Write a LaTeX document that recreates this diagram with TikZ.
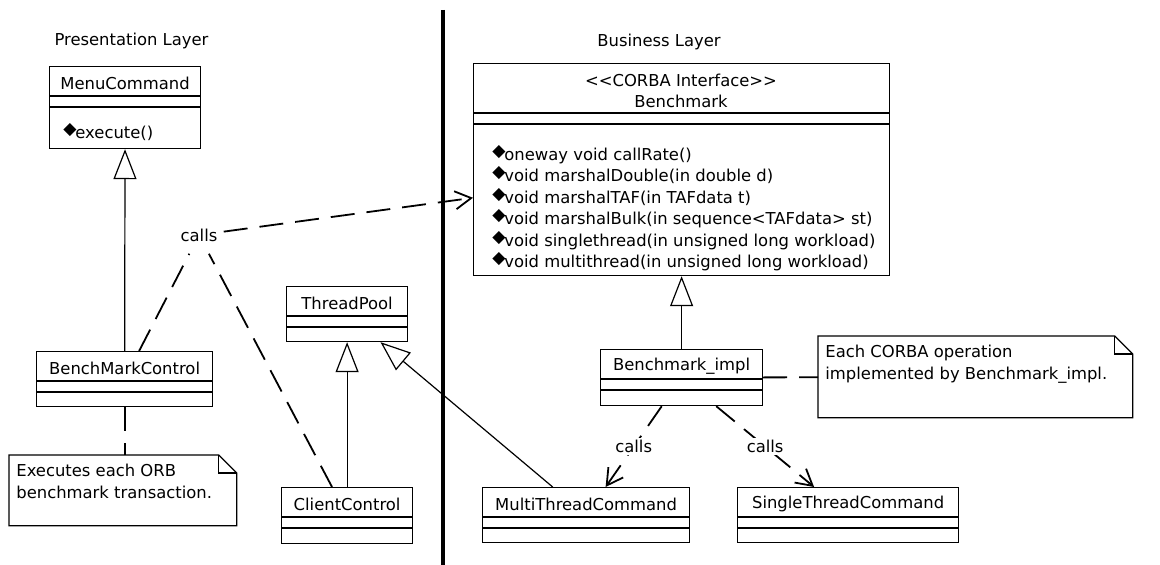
\documentclass[tikz,border=0pt]{standalone}
\usepackage{fontspec}
\setmainfont{DejaVu Sans}
\usetikzlibrary{arrows.meta,positioning,calc}

\newcommand{\op}{\raisebox{1.8pt}{\fontsize{8.6}{8.6}\selectfont ◆}\hspace{-0.6pt}}

\tikzset{
  cls/.style={draw, fill=white, inner sep=0pt, anchor=north west, line width=0.6pt},
  txt/.style={inner sep=0pt},
  gen/.style={-{Triangle[open, length=15pt, width=11.5pt]}, line width=0.6pt},
  dep/.style={line width=0.9pt, dash pattern=on 12pt off 6pt},
  opn/.style={-{Straight Barb[length=8pt, width=9pt]}},
  lbl/.style={fill=white, inner sep=1pt},
  notebox/.style={line width=0.6pt}
}

\newcommand{\umlclass}[6]{%
  \node[cls, minimum width=#4*0.5pt, minimum height=#5*0.5pt] (#1) at (#2,#3) {};
  \node (#1-t) at ($(#1.north)+(0,17)$) {#6};
  \draw[line width=0.6pt] ($(#1.north west)+(0,30)$) -- ($(#1.north east)+(0,30)$)
    ($(#1.north west)+(0,41)$) -- ($(#1.north east)+(0,41)$);
}

\newcommand{\umlnote}[5]{%
  \node[txt, minimum width=#4*0.5pt, minimum height=#5*0.5pt, anchor=north west] (#1) at (#2,#3) {};
  \draw[notebox] (#1.north west) -- ($(#1.north east)+(-18,0)$) -- ($(#1.north east)+(0,18)$)
    -- (#1.south east) -- (#1.south west) -- cycle;
  \draw[notebox] ($(#1.north east)+(-18,0)$) |- ($(#1.north east)+(0,18)$);
}

\begin{document}
\begin{tikzpicture}[x=0.5pt, y=-0.5pt, every node/.style={font=\fontsize{8.2}{10.75}\selectfont}]
        \useasboundingbox (0,0) rectangle (1160,565);

        \draw[line width=2pt] (443,10) -- (443,565);

        \node (pres) at (131.5,41) {Presentation Layer};
        \node (bus) at (659,42) {Business Layer};

        \umlclass{mc}{49}{66}{151}{82}{MenuCommand}
        \node[txt, anchor=west] (mc-op) at (63,132) {\op execute()};
        \umlclass{bmc}{36}{351}{176}{55}{BenchMarkControl}
        \umlclass{tp}{286}{286}{121}{55}{ThreadPool}
        \umlclass{cc}{281}{487}{131}{56}{ClientControl}
        \umlclass{mtc}{482}{487}{207}{55}{MultiThreadCommand}
        \umlclass{stc}{737}{487}{221}{55}{SingleThreadCommand}
        \umlclass{bi}{600}{349}{162}{56}{Benchmark\_impl}

        \node[cls, minimum width=208pt, minimum height=106pt] (bench) at (473,63) {};
        \node[align=center] (bench-t) at (681,91) {<{}<CORBA Interface>{}>\\Benchmark};
        \draw[line width=0.6pt] ($(bench.north west)+(0,50)$) -- ($(bench.north east)+(0,50)$)
          ($(bench.north west)+(0,61)$) -- ($(bench.north east)+(0,61)$);
        \node[txt, anchor=north west, align=left] (bench-ops) at (492,145) {\op oneway void callRate()\\
          \op void marshalDouble(in double d)\\
          \op void marshalTAF(in TAFdata t)\\
          \op void marshalBulk(in sequence<TAFdata> st)\\
          \op void singlethread(in unsigned long workload)\\
          \op void multithread(in unsigned long workload)};

        \umlnote{n1}{9}{455}{227}{70}
        \node[txt, anchor=north west, align=left] (n1-t) at (16,464) {Executes each ORB\\benchmark transaction.};
        \umlnote{n2}{818}{336}{314}{81}
        \node[txt, anchor=north west, align=left] (n2-t) at (825,345) {Each CORBA operation\\implemented by Benchmark\_impl.};

        \draw[gen] (bmc) -- (mc);
        \draw[gen] (cc) -- (tp);
        \draw[gen] (mtc) -- (tp);
        \draw[gen] (bi) -- (bench);

        \node[inner xsep=3pt, inner ysep=6pt] (calls) at (199,235) {calls};
        \begin{scope}[dep]
        \draw (bmc) -- (calls);
        \draw (cc) -- (calls);
        \draw[opn] (calls) -- (bench);
        \draw[opn] (bi) -- (mtc) node[lbl, midway] (calls-m) {calls};
        \draw[opn] (bi) -- (stc) node[lbl, midway] (calls-s) {calls};
        \draw (bi) -- (n2);
        \draw (bmc.south) -- (bmc.south |- n1.north);
        \end{scope}

\end{tikzpicture}
\end{document}
